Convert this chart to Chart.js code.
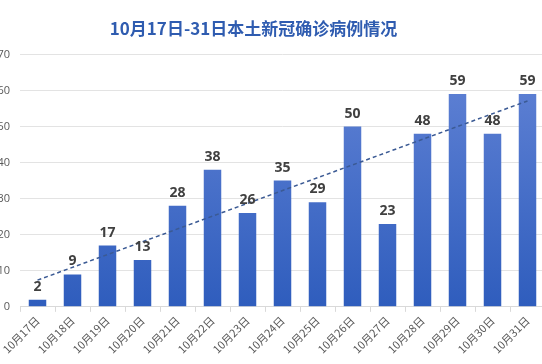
<!DOCTYPE html>
<html>
<head>
<meta charset="utf-8">
<script src="https://cdn.jsdelivr.net/npm/chart.js@4/dist/chart.umd.min.js"></script>
<style>
  html, body { margin: 0; padding: 0; background: #fff; overflow: hidden; }
  body { width: 542px; height: 364px; position: relative; }
  #wrap { position: absolute; left: -38px; top: 0; width: 583px; height: 364px; }
</style>
</head>
<body>
<div id="wrap"><canvas id="barChart"></canvas></div>
<script>
// days and daily cases
const days = ["10月17日", "10月18日", "10月19日", "10月20日", "10月21日", "10月22日", "10月23日", "10月24日",
  "10月25日", "10月26日", "10月27日", "10月28日", "10月29日", "10月30日", "10月31日"];
const cases = [2, 9, 17, 13, 28, 38, 26, 35, 29, 50, 23, 48, 59, 48, 59];
// dashed trend line, read at its two ends
const trend = [7.4, null, null, null, null, null, null, null, null, null, null, null, null, null, 57.1];
const yTicks = [0, 10, 20, 30, 40, 50, 60, 70];

// value labels above the bars
const barLabels = {
  id: "barLabels",
  afterDatasetsDraw(chart) {
    const ctx = chart.ctx;
    const meta = chart.getDatasetMeta(1);
    ctx.save();
    ctx.font = "bold 14px 'Open Sans', sans-serif";
    ctx.fillStyle = "#404040";
    ctx.textAlign = "center";
    ctx.textBaseline = "bottom";
    meta.data.forEach(function (bar, i) {
      ctx.fillText(cases[i], bar.x, bar.y - 6);
    });
    ctx.restore();
  }
};

const barChartCanvas = document.getElementById("barChart").getContext("2d");

const barChart = new Chart(barChartCanvas, {
  type: "bar",
  data: {
    labels: days,
    datasets: [
      {
        type: "line",
        data: trend,
        borderColor: "#3b5a94",
        borderWidth: 1.5,
        borderDash: [4, 3],
        pointRadius: 0,
        spanGaps: true,
        fill: false
      },
      {
        data: cases,
        backgroundColor: function (c) {
          const area = c.chart.chartArea;
          if (!area) return "#4470c8";
          const g = c.chart.ctx.createLinearGradient(0, area.top, 0, area.bottom);
          g.addColorStop(0, "#6384d6");
          g.addColorStop(1, "#2f5dbd");
          return g;
        },
        barPercentage: 0.5,
        categoryPercentage: 1
      }
    ]
  },
  options: {
    responsive: true,
    maintainAspectRatio: false,
    animation: false,
    layout: { padding: { top: 0, bottom: 6, right: 0, left: 0 } },
    plugins: {
      legend: { display: false },
      tooltip: { enabled: false },
      title: {
        display: true,
        text: "10月17日-31日本土新冠确诊病例情况",
        color: "#2f5cb0",
        font: { size: 17, weight: "bold", family: "'Noto Sans CJK SC', sans-serif" },
        padding: { top: 18, bottom: 16 }
      }
    },
    scales: {
      x: {
        grid: { drawOnChartArea: false, drawTicks: true, tickLength: 5, color: "#d9d9d9" },
        border: { color: "#d9d9d9" },
        ticks: {
          color: "#595959",
          font: { size: 11, family: "'Noto Sans CJK SC', sans-serif" },
          maxRotation: 45,
          minRotation: 45,
          padding: 2
        }
      },
      y: {
        min: 0,
        max: 70,
        afterFit: function (s) { s.width = 58; },
        afterBuildTicks: function (s) { s.ticks = yTicks.map(v => ({ value: v })); },
        grid: { color: "#e3e3e3", drawTicks: false },
        border: { display: false },
        ticks: {
          color: "#595959",
          font: { size: 11, family: "'Open Sans', sans-serif" },
          padding: 10
        }
      }
    }
  },
  plugins: [barLabels]
});
</script>
</body>
</html>
